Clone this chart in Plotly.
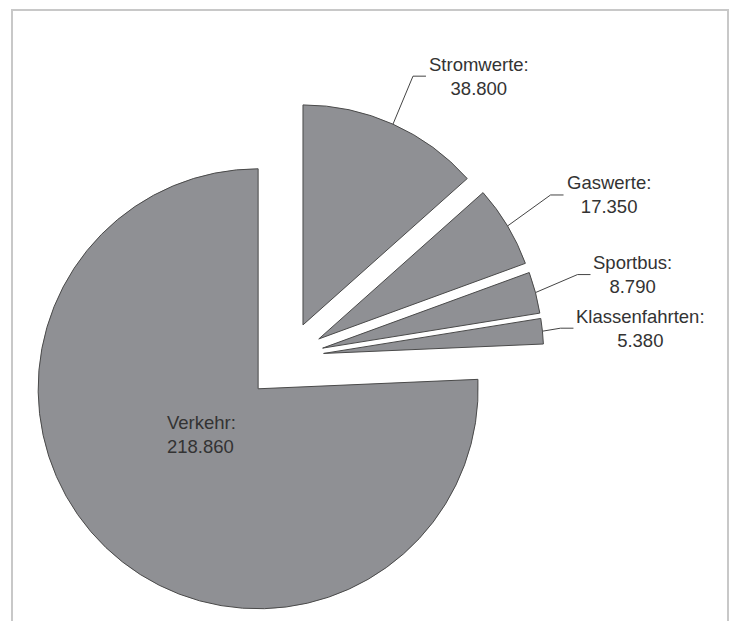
import math
import plotly.graph_objects as go

# ---- data ----
labels = ["Stromwerte", "Gaswerte", "Sportbus", "Klassenfahrten", "Verkehr"]
values = [38800, 17350, 8790, 5380, 218860]
value_text = ["38.800", "17.350", "8.790", "5.380", "218.860"]
pulls = [0.16, 0.16, 0.16, 0.16, 0.2]

# ---- style / layout constants ----
W, H = 729, 621
DOM_X = [0.0337, 0.758]
DOM_Y = [0.0, 0.8502]
FILL = "#8f9094"
EDGE = "#4a4a4a"
TEXT = "#333333"
FONT = "Arial, Liberation Sans, sans-serif"
FS = 18.5
# leader elbow offsets (px) relative to slice anchor, and horizontal tail length
elbow = {"Stromwerte": (20, -48), "Gaswerte": (43, -31), "Sportbus": (42, -18), "Klassenfahrten": (18, -3)}
tail = 13

fig = go.Figure(go.Pie(
    labels=labels, values=values, pull=pulls, sort=False,
    direction="clockwise", rotation=0,
    marker=dict(colors=[FILL] * len(values), line=dict(color=EDGE, width=1)),
    textinfo="none", hoverinfo="label+value", showlegend=False,
    domain=dict(x=DOM_X, y=DOM_Y),
))

# pie geometry as plotly computes it
boxW = W * (DOM_X[1] - DOM_X[0])
boxH = H * (DOM_Y[1] - DOM_Y[0])
r = min(boxW, boxH) / 2 / (1 + max(pulls))
cx = W * (DOM_X[0] + DOM_X[1]) / 2
cy = H * (1 - DOM_Y[0]) - boxH / 2
total = sum(values)

def px2paper(x, y):
    return x / W, 1 - y / H

shapes = []
annotations = []
cum = 0.0
for lab, v, vt, p in zip(labels, values, value_text, pulls):
    a0 = cum / total * 2 * math.pi
    cum += v
    a1 = cum / total * 2 * math.pi
    mid = (a0 + a1) / 2
    if lab in elbow:
        ax = cx + (r + p * r) * math.sin(mid)
        ay = cy - (r + p * r) * math.cos(mid)
        ex, ey = ax + elbow[lab][0], ay + elbow[lab][1]
        tx, ty = ex + tail, ey
        pts = [px2paper(ax, ay), px2paper(ex, ey), px2paper(tx, ty)]
        path = "M {:.5f},{:.5f} L {:.5f},{:.5f} L {:.5f},{:.5f}".format(*pts[0], *pts[1], *pts[2])
        shapes.append(dict(type="path", path=path, xref="paper", yref="paper",
                           line=dict(color="#444444", width=1)))
        lx, ly = px2paper(tx + 1, ty)
        annotations.append(dict(x=lx, y=ly, xref="paper", yref="paper", showarrow=False,
                                xanchor="left", yanchor="middle", align="center",
                                text=f"{lab}:<br>{vt}", font=dict(size=FS, color=TEXT, family=FONT)))
    else:
        # inside label for the big slice
        d = p * r + 0.33 * r
        lang = mid + math.radians(4.3)
        lx = cx + d * math.sin(lang)
        ly = cy - d * math.cos(lang)
        px_, py_ = px2paper(lx, ly)
        annotations.append(dict(x=px_, y=py_, xref="paper", yref="paper", showarrow=False,
                                xanchor="center", yanchor="middle", align="left",
                                text=f"{lab}:<br>{vt}", font=dict(size=FS, color=TEXT, family=FONT)))

# outer frame
shapes.append(dict(type="rect", xref="paper", yref="paper", layer="below",
                   x0=12 / W, x1=728 / W, y0=-0.1, y1=1 - 10 / H,
                   line=dict(color="#c8c8c8", width=2)))

fig.update_layout(
    width=W, height=H, margin=dict(l=0, r=0, t=0, b=0),
    paper_bgcolor="white", plot_bgcolor="white",
    shapes=shapes, annotations=annotations,
)
fig.write_html("out.html")
